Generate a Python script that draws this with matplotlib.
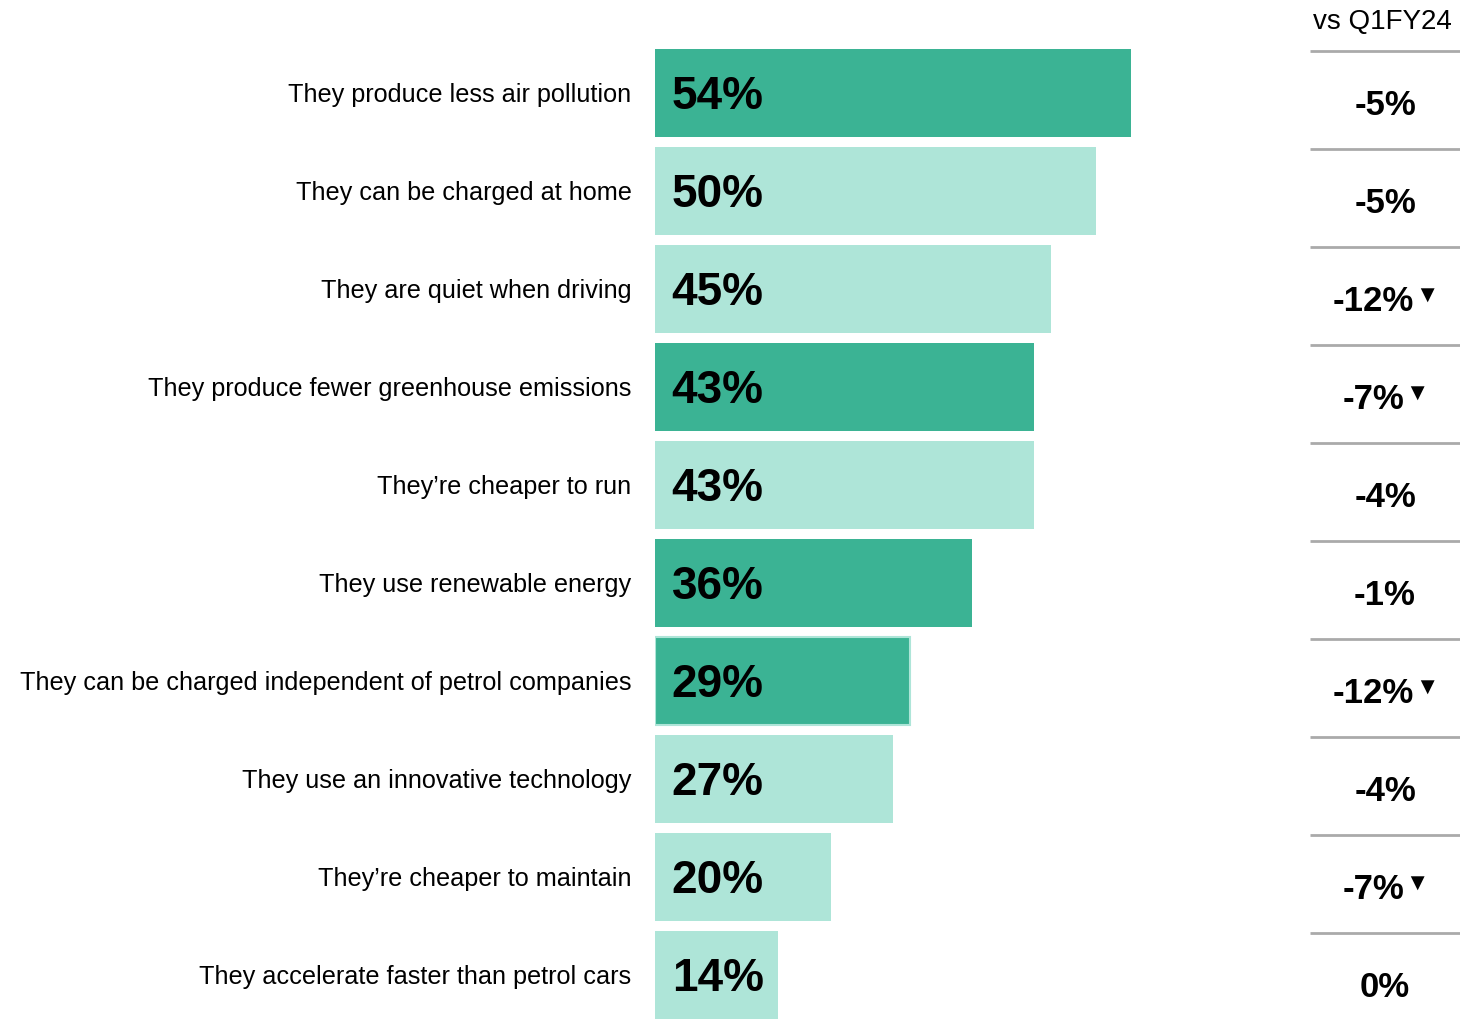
import matplotlib
matplotlib.use("Agg")
import matplotlib.pyplot as plt

plt.rcParams['font.family'] = ['Liberation Sans', 'DejaVu Sans']

reasons = [
    "They produce less air pollution",
    "They can be charged at home",
    "They are quiet when driving",
    "They produce fewer greenhouse emissions",
    "They\u2019re cheaper to run",
    "They use renewable energy",
    "They can be charged independent of petrol companies",
    "They use an innovative technology",
    "They\u2019re cheaper to maintain",
    "They accelerate faster than petrol cars",
]
share = [54, 50, 45, 43, 43, 36, 29, 27, 20, 14]
highlight = [True, False, False, True, False, True, True, False, False, False]
change = [-5, -5, -12, -7, -4, -1, -12, -4, -7, 0]
sig_drop = [False, False, True, True, False, False, True, False, True, False]

DARK = "#3bb394"
LIGHT = "#aee5d8"

W, H = 1478, 1023
fig = plt.figure(figsize=(W / 100, H / 100), dpi=100)

# rows are 98px apart, first row centred at 93px from the top
y_top = -93 / 98
y_bot = (H - 93) / 98

ax = fig.add_axes([655 / W, 0, 530 / W, 1])
ax.set_xlim(0, 530 / 8.81)
ax.set_ylim(y_bot, y_top)

rows = list(range(len(reasons)))
colors = [DARK if h else LIGHT for h in highlight]
bars = ax.barh(rows, share, height=0.9, color=colors, align='center')
bars[6].set_edgecolor(LIGHT)
bars[6].set_linewidth(1.5)

for i, v in enumerate(share):
    ax.annotate(f"{v}%", xy=(0, i), xytext=(12, -3), textcoords='offset points',
                ha='left', va='center', fontsize=33, fontweight='bold', color='black')

ax.set_yticks(rows)
ax.set_yticklabels(reasons, fontsize=18.2)
ax.tick_params(axis='y', length=0, pad=17)
ax.tick_params(axis='x', bottom=False, labelbottom=False)
for s in ax.spines.values():
    s.set_visible(False)

# comparison column
ax2 = fig.add_axes([1310 / W, 0, 150 / W, 1])
ax2.set_xlim(0, 1)
ax2.set_ylim(y_bot, y_top)
ax2.axis('off')

ax2.text(0.48, -0.72, "vs Q1FY24", ha='center', va='center', fontsize=20)
for i, (c, s) in enumerate(zip(change, sig_drop)):
    ax2.hlines(i - 0.43, 0, 1, color="#aaaaaa", lw=2)
    x = 0.42 if s else 0.5
    t = ax2.text(x, i + 0.13, f"{c}%", ha='center', va='center',
                 fontsize=25, fontweight='bold')
    if s:
        ax2.annotate("\u25bc", xy=(1, 1), xycoords=t, xytext=(1, 0),
                     textcoords='offset points', ha='left', va='top', fontsize=17)

fig.savefig("out.png", dpi=100)
